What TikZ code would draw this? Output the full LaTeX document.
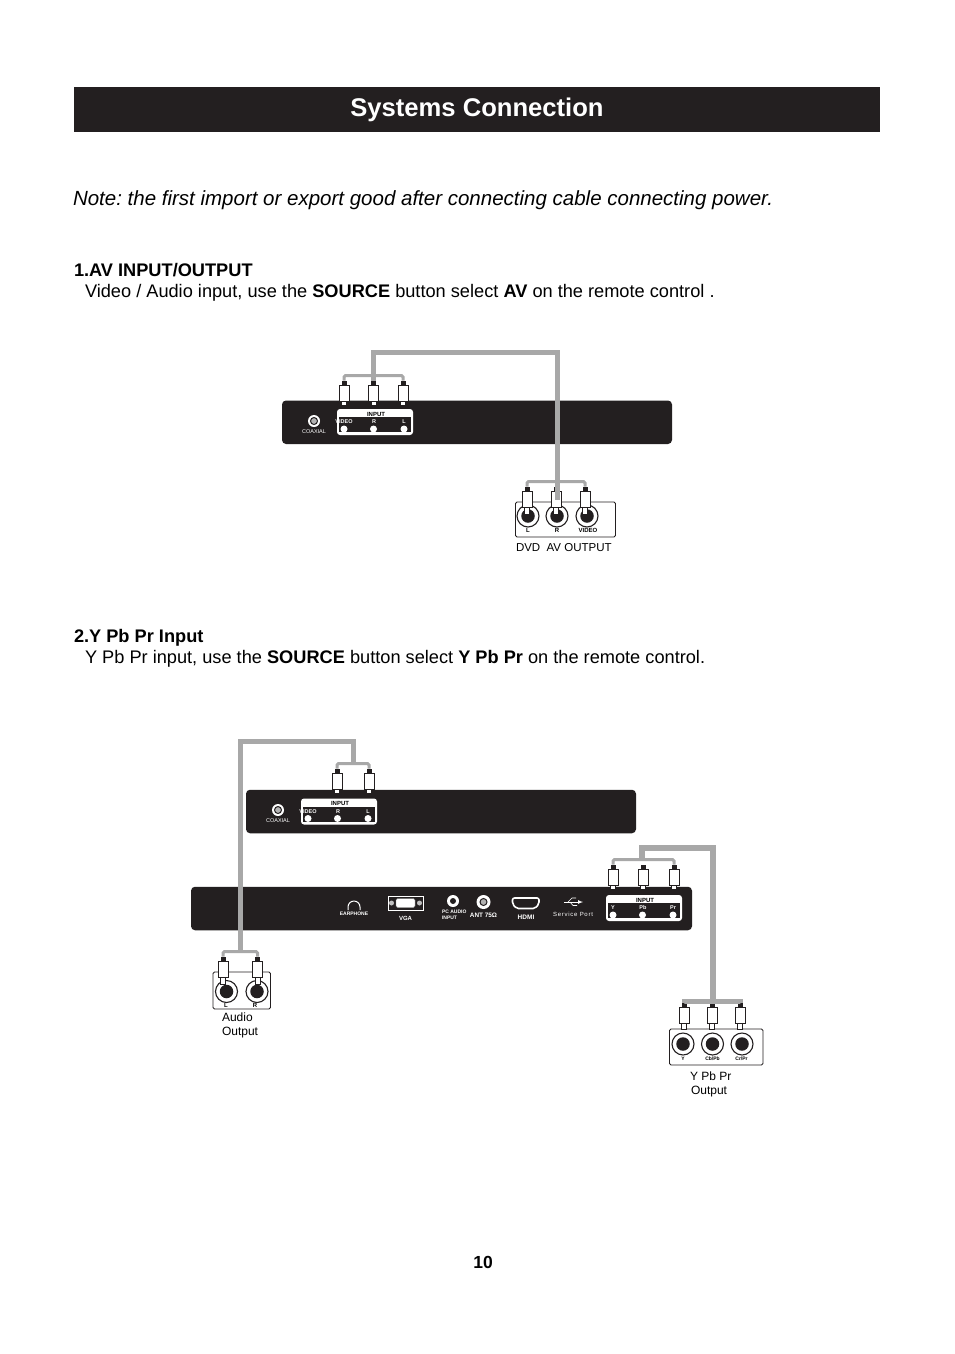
\documentclass[tikz,border=0pt]{standalone}
\usepackage{fontspec}
\setmainfont{Liberation Sans}
\usetikzlibrary{positioning}
\definecolor{panel}{HTML}{231F20}
\definecolor{cablegray}{HTML}{A8A8A8}
\frenchspacing
\tikzset{
        treenode/.style={align=center,inner sep=0pt,outer sep=0pt},
        % Page text
        text_left/.style={treenode, anchor=base west, black},
        text_tiny/.style={treenode, white, font=\bfseries\fontsize{5.5}{5.5}\selectfont},
        text_box/.style={treenode, black, font=\bfseries\fontsize{6}{6}\selectfont},
        % Back panels
        node_panel/.style={treenode, rectangle, fill=panel, rounded corners=4pt, minimum height=43.5pt},
        node_input/.style={treenode, rectangle, fill=white, rounded corners=3pt, minimum width=76pt, minimum height=26pt},
        node_strip/.style={treenode, rectangle, fill=panel, minimum width=72pt, minimum height=15pt},
        node_socket/.style={treenode, circle, fill=white, minimum size=7pt},
        % Output boxes
        node_outbox/.style={treenode, rectangle, draw=panel, line width=0.9pt, fill=white, rounded corners=1.5pt},
        jack_ring/.style={treenode, circle, draw=panel, line width=1.1pt, fill=white, minimum size=22pt},
        jack_core/.style={treenode, circle, fill=panel, minimum size=13.5pt},
        % Round sockets on the panels
        coax_ring/.style={treenode, circle, fill=white, minimum size=12pt},
        coax_core/.style={treenode, circle, draw=panel, line width=1pt, fill=gray!60, minimum size=7pt},
        % Cables
        cable_thick/.style={cablegray, line width=5pt},
        cable_thin/.style={cablegray, line width=3pt, rounded corners=1.5pt},
        % Plugs
        plug_body/.style={treenode, rectangle, draw=panel, line width=0.9pt, fill=white, minimum width=10pt, minimum height=16pt},
        plug_cap/.style={treenode, rectangle, fill=panel, minimum width=5pt, minimum height=5pt},
        plug_tip/.style={treenode, rectangle, draw=panel, line width=1pt, fill=white, minimum width=5pt},
        pics/rca_plug/.style={code={
                \node[plug_tip, minimum height=#1 pt] (-tip) at (0,{8+#1/2}) {};
                \node[plug_body] (-body) at (0,0) {};
                \node[plug_cap] (-cap) at (0,-10) {};
        }},
        pics/rca_plug/.default=4,
        % Input block with three sockets
        pics/input_block/.style args={#1/#2/#3}{code={
                \node[node_input] (-box) at (0,0) {};
                \node[node_strip] (-strip) at (0,2.5) {};
                \node[text_box] (-title) at (1,-8) {INPUT};
                \node[text_tiny] (-la) at (-31,0) {#1};
                \node[text_tiny] (-lb) at (-1,0) {#2};
                \node[text_tiny] (-lc) at (29,0) {#3};
                \node[node_socket] (-sa) at (-31,7) {};
                \node[node_socket] (-sb) at (-1.5,7) {};
                \node[node_socket] (-sc) at (29,7) {};
        }}
}

\begin{document}
\begin{tikzpicture}[x=1pt, y=-1pt]
    \useasboundingbox (0,0) rectangle (954,1354);
    % Heading
    \node[treenode, fill=panel, minimum width=806pt, minimum height=45pt] (title_band) at (477,109.5) {};
    \node[treenode, white, font=\bfseries\fontsize{25.6}{26}\selectfont] (title_text) at (477,110) {Systems Connection};
    \node[text_left, font=\itshape\fontsize{20.5}{22}\selectfont] (note_text) at (73,205) {Note: the first import or export good after connecting cable connecting power.};
    \node[text_left, font=\bfseries\fontsize{18.2}{20}\selectfont] (av_head) at (74,276) {1.AV INPUT/OUTPUT};
    \node[text_left, font=\fontsize{18.2}{20}\selectfont] (av_line) at (85,297) {Video / Audio input, use the \textbf{SOURCE} button select \textbf{AV} on the remote control .};
    \node[text_left, font=\bfseries\fontsize{18.2}{20}\selectfont] (yp_head) at (74,642) {2.Y Pb Pr Input};
    \node[text_left, font=\fontsize{18.2}{20}\selectfont] (yp_line) at (85,663) {Y Pb Pr input, use the \textbf{SOURCE} button select \textbf{Y Pb Pr} on the remote control.};
    \node[treenode, font=\bfseries\fontsize{17.5}{20}\selectfont] (page_no) at (483,1262) {10};

    % AV panel
    \node[node_panel, minimum width=390pt] (av_panel) at (477,422.25) {};
    \node[coax_ring] (av_coax) at (314,421) {};
    \node[coax_core] (av_coax_in) at (av_coax) {};
    \node[text_tiny, font=\fontsize{5.5}{5.5}\selectfont] (av_coax_text) at (314,432) {COAXIAL};
    \pic (av_in) at (375,422) {input_block={VIDEO/R/L}};

    % AV output box
    \node[node_outbox, minimum width=100pt, minimum height=35pt] (dvd_box) at (565.5,519.5) {};
    \node[jack_ring] (dvd_l) at (528,516) {};
    \node[jack_core] (dvd_l_in) at (dvd_l) {};
    \node[jack_ring] (dvd_r) at (557,516) {};
    \node[jack_core] (dvd_r_in) at (dvd_r) {};
    \node[jack_ring] (dvd_v) at (587,516) {};
    \node[jack_core] (dvd_v_in) at (dvd_v) {};
    \node[text_box] (dvd_l_text) at (528,530) {L};
    \node[text_box] (dvd_r_text) at (557,530) {R};
    \node[text_box] (dvd_v_text) at (588,530) {VIDEO};
    \node[text_left, font=\fontsize{11.5}{13}\selectfont] (dvd_text) at (516,551) {DVD\ \ AV OUTPUT};

    % AV plugs
    \pic (av_pa) at (344,393) {rca_plug};
    \pic (av_pb) at (373.5,393) {rca_plug};
    \pic (av_pc) at (403,393) {rca_plug};
    \pic (dvd_pa) at (527,499) {rca_plug=7};
    \pic (dvd_pb) at (556,499) {rca_plug=7};
    \pic (dvd_pc) at (585,499) {rca_plug=7};

    % AV cables
    \draw[cable_thin] (av_pa-cap.north) -- ++(0,-5) -| (av_pc-cap.north);
    \draw[cable_thin] (dvd_pa-cap.north) -- ++(0,-5) -| (dvd_pc-cap.north);
    \draw[cable_thick] (av_pb-cap.north) -- ++(0,-28) -| ([xshift=1pt,yshift=-1pt]dvd_pb-body.center);

    % Y Pb Pr upper panel
    \node[node_panel, minimum width=390pt] (au_panel) at (441,811.5) {};
    \node[coax_ring] (au_coax) at (278,810) {};
    \node[coax_core] (au_coax_in) at (au_coax) {};
    \node[text_tiny, font=\fontsize{5.5}{5.5}\selectfont] (au_coax_text) at (278,821) {COAXIAL};
    \pic (au_in) at (339,811.5) {input_block={VIDEO/R/L}};

    % Y Pb Pr lower panel
    \node[node_panel, minimum width=501pt] (yp_panel) at (441.5,908.5) {};
    \draw[white, line width=1pt] (348,910) -- (348,907) arc[start angle=180, end angle=0, radius=6pt] -- (360,910);
    \node[text_tiny, font=\bfseries\fontsize{5}{5}\selectfont] (ear_text) at (354,913.5) {EARPHONE};
    \node[treenode, draw=white, line width=0.8pt, fill=panel, minimum width=35pt, minimum height=14pt] (vga_box) at (405.5,903) {};
    \node[treenode, circle, fill=white!75!black, minimum size=5pt, left=1.5pt of vga_box.center, xshift=-10pt] (vga_sa) {};
    \node[treenode, circle, fill=white!75!black, minimum size=5pt, right=1.5pt of vga_box.center, xshift=10pt] (vga_sb) {};
    \node[treenode, rectangle, fill=white, draw=gray, rounded corners=1.5pt, minimum width=19pt, minimum height=9pt] (vga_plug) at (vga_box) {};
    \node[text_tiny, font=\bfseries\fontsize{6}{6}\selectfont] (vga_text) at (405.5,918) {VGA};
    \node[treenode, circle, fill=white, minimum size=12pt] (pc_jack) at (453,901) {};
    \node[treenode, circle, fill=panel, minimum size=6pt] (pc_jack_in) at (pc_jack) {};
    \node[text_tiny, anchor=west, align=left, font=\bfseries\fontsize{5}{6}\selectfont] (pc_text) at (442,915) {PC AUDIO\\INPUT};
    \node[coax_ring, minimum size=14pt] (ant_jack) at (483.5,902) {};
    \node[coax_core] (ant_jack_in) at (ant_jack) {};
    \node[text_tiny, font=\bfseries\fontsize{6.4}{6.4}\selectfont] (ant_text) at (483.5,915) {ANT 75Ω};
    \draw[white, line width=1.6pt, rounded corners=2pt] (512.5,898) -- (539,898) -- (539,904) -- (535,908.5) -- (516.5,908.5) -- (512.5,904) -- cycle;
    \node[text_tiny, font=\bfseries\fontsize{6.5}{6.5}\selectfont] (hdmi_text) at (526,917) {HDMI};
    % usb mark
    \draw[white, line width=0.7pt, -latex] (564,902) -- (583,902);
    \draw[white, line width=0.6pt] (568,902) -- (572,898) -- (576,898);
    \draw[white, line width=0.6pt] (570,902) -- (573,905.5) -- (577,905.5);
    \node[text_tiny, font=\fontsize{6}{6}\selectfont\addfontfeature{LetterSpace=12}] (usb_text) at (573,914) {Service Port};
    \pic (yp_in) at (644,908) {input_block={Y/Pb/Pr}};

    % Audio output box
    \node[node_outbox, minimum width=57.5pt, minimum height=37pt] (audio_box) at (241.75,990.5) {};
    \node[jack_ring] (audio_l) at (226.5,991.5) {};
    \node[jack_core] (audio_l_in) at (audio_l) {};
    \node[jack_ring] (audio_r) at (257,991.5) {};
    \node[jack_core] (audio_r_in) at (audio_r) {};
    \node[text_box] (audio_l_text) at (226,1005) {L};
    \node[text_box] (audio_r_text) at (255,1005) {R};
    \node[text_left, font=\fontsize{12}{13}\selectfont] (audio_text_a) at (222,1021) {Audio};
    \node[text_left, font=\fontsize{12}{13}\selectfont] (audio_text_b) at (222,1035) {Output};

    % Y Pb Pr output box
    \node[node_outbox, minimum width=93.5pt, minimum height=36pt] (comp_box) at (716.25,1047) {};
    \node[jack_ring] (comp_y) at (683,1044) {};
    \node[jack_core] (comp_y_in) at (comp_y) {};
    \node[jack_ring] (comp_b) at (712.5,1044) {};
    \node[jack_core] (comp_b_in) at (comp_b) {};
    \node[jack_ring] (comp_r) at (742,1044) {};
    \node[jack_core] (comp_r_in) at (comp_r) {};
    \node[text_box, font=\bfseries\fontsize{5}{5}\selectfont] (comp_y_text) at (683,1059) {Y};
    \node[text_box, font=\bfseries\fontsize{5}{5}\selectfont] (comp_b_text) at (712.5,1059) {Cb/Pb};
    \node[text_box, font=\bfseries\fontsize{5}{5}\selectfont] (comp_r_text) at (741.5,1059) {Cr/Pr};
    \node[text_left, font=\fontsize{12}{13}\selectfont] (comp_text_a) at (690,1080) {Y Pb Pr};
    \node[text_left, font=\fontsize{12}{13}\selectfont] (comp_text_b) at (691,1094) {Output};

    % Plugs of the lower part
    \pic (au_pa) at (337,781) {rca_plug};
    \pic (au_pb) at (369,781) {rca_plug};
    \pic (audio_pa) at (223,969) {rca_plug=7};
    \pic (audio_pb) at (257.5,969) {rca_plug=7};
    \pic (yp_pa) at (613,877) {rca_plug};
    \pic (yp_pb) at (643,877) {rca_plug};
    \pic (yp_pc) at (674,877) {rca_plug};
    \pic (comp_pa) at (684,1015) {rca_plug=6};
    \pic (comp_pb) at (712,1015) {rca_plug=6};
    \pic (comp_pc) at (740,1015) {rca_plug=6};

    % Cables of the lower part
    \coordinate (au_fork) at (353.5,763);
    \coordinate (audio_fork) at (240.5,951);
    \coordinate (yp_fork) at (642,860);
    \coordinate (comp_fork) at (713,1001);
    \draw[cable_thin] (au_pa-cap.north) -- ++(0,-5) -| (au_pb-cap.north);
    \draw[cable_thin] (audio_pa-cap.north) -- ++(0,-5) -| (audio_pb-cap.north);
    \draw[cable_thin] (yp_pa-cap.north) -- ++(0,-5) -| (yp_pc-cap.north);
    \draw[cable_thin, line width=5pt, rounded corners=0pt] (comp_pa-cap.north) -- ++(0,-1.5) -| (comp_pc-cap.north);
    \draw[cable_thick] (au_fork) |- (240.5,741) -- (audio_fork);
    \draw[cable_thick, line width=6pt] (yp_fork) |- (713,848) -- (comp_fork);
\end{tikzpicture}
\end{document}
